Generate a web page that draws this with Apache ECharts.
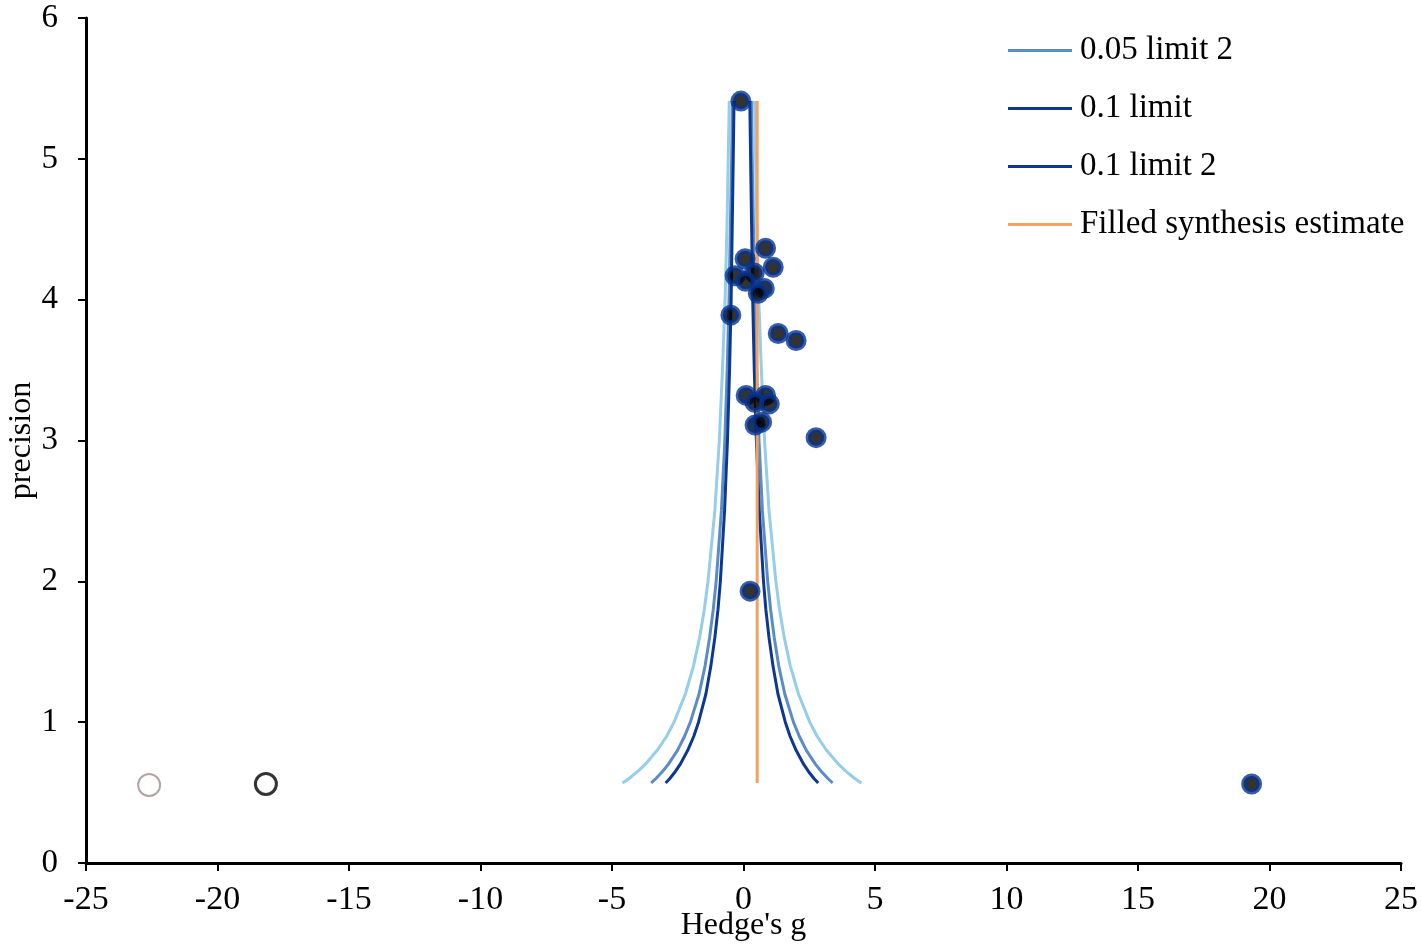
<!DOCTYPE html>
<html>
<head>
<meta charset="utf-8">
<script src="https://cdn.jsdelivr.net/npm/echarts@6/dist/echarts.min.js"></script>
<style>html,body{margin:0;padding:0;background:#fff;}#c{width:1421px;height:946px;}</style>
</head>
<body>
<div id="c"></div>
<script>
// precision levels at which the funnel limits are read
const precisionLevels = [0.568, 0.6, 0.65, 0.7, 0.8, 0.9, 1.0, 1.2, 1.4, 1.6, 1.8, 2.0, 2.5, 3.0, 3.5, 4.0, 4.5, 5.0, 5.41];
// funnel limit x-values (Hedge's g)
const limit01Left  = [-4.60, -4.35, -4.02, -3.74, -3.28, -2.92, -2.64, -2.21, -1.90, -1.67, -1.49, -1.35, -1.09, -0.92, -0.80, -0.70, -0.63, -0.58, -0.54];
const limit01Right = [4.48, 4.23, 3.90, 3.62, 3.16, 2.80, 2.52, 2.09, 1.78, 1.55, 1.37, 1.23, 0.97, 0.80, 0.68, 0.58, 0.51, 0.46, 0.42];
const limit05Left  = [-3.51, -3.33, -3.08, -2.86, -2.51, -2.24, -2.02, -1.69, -1.46, -1.29, -1.15, -1.04, -0.84, -0.71, -0.62, -0.55, -0.50, -0.45, -0.42];
const limit05Right = [3.39, 3.21, 2.96, 2.74, 2.39, 2.12, 1.90, 1.57, 1.34, 1.17, 1.03, 0.92, 0.72, 0.59, 0.50, 0.43, 0.38, 0.33, 0.30];
const limit1Left   = [-2.96, -2.80, -2.59, -2.41, -2.12, -1.89, -1.71, -1.43, -1.24, -1.09, -0.97, -0.88, -0.72, -0.61, -0.53, -0.47, -0.43, -0.39, -0.36];
const limit1Right  = [2.84, 2.68, 2.47, 2.29, 2.00, 1.77, 1.59, 1.31, 1.12, 0.97, 0.85, 0.76, 0.60, 0.49, 0.41, 0.35, 0.31, 0.27, 0.24];
// filled synthesis estimate
const filledEstimate = 0.52;
const estimatePrecision = [0.568, 5.41];
// studies: Hedge's g and precision
const studyG = [-0.10, 0.84, 0.06, 1.13, -0.32, 0.41, 0.08, 0.79, 0.56, -0.48, 1.32, 2.00, 0.10, 0.84, 0.44, 0.98, 0.44, 0.69, 2.76, 0.25, 19.32];
const studyP = [5.41, 4.365, 4.29, 4.23, 4.17, 4.19, 4.13, 4.08, 4.045, 3.89, 3.76, 3.71, 3.32, 3.32, 3.27, 3.26, 3.11, 3.13, 3.02, 1.93, 0.561];
// outlying open markers
const openBlackG = [-18.16], openBlackP = [0.561];
const openLightG = [-22.6], openLightP = [0.554];
const xTicks = [-25, -20, -15, -10, -5, 0, 5, 10, 15, 20, 25];
const yTicks = [0, 1, 2, 3, 4, 5, 6];

const zip = (xs, ys) => xs.map((x, i) => [x, ys[i]]);
const FONT = 'Liberation Serif, Times New Roman, serif';
const LIGHT = '#95cdea', MID = '#5b8cc6', DARK = '#0c3891', ORANGE = '#f5a05c';

function lineSeries(name, xs, color) {
  return {
    name: name, type: 'line', data: zip(xs, precisionLevels),
    showSymbol: false, symbol: 'none', smooth: false,
    lineStyle: { color: color, width: 3 }, itemStyle: { color: color },
    silent: true, z: 2
  };
}

const chart = echarts.init(document.getElementById('c'), null, { renderer: 'canvas' });
chart.setOption({
  animation: false,
  backgroundColor: '#fff',
  grid: { left: 86, right: 20, top: 18, bottom: 83, containLabel: false, outerBoundsMode: 'none' },
  legend: {
    data: ['0.05 limit 2', '0.1 limit', '0.1 limit 2', 'Filled synthesis estimate'],
    orient: 'vertical', left: 1003, top: 29,
    icon: 'rect', itemWidth: 64, itemHeight: 3, itemGap: 25,
    textStyle: { fontFamily: FONT, fontSize: 33, color: '#000', padding: [0, 0, 0, 3] },
    selectedMode: false
  },
  xAxis: {
    type: 'value', min: xTicks[0], max: xTicks[xTicks.length - 1], interval: 5,
    name: "Hedge's g", nameLocation: 'middle', nameGap: 47, nameMoveOverlap: false,
    nameTextStyle: { fontFamily: FONT, fontSize: 32, color: '#000' },
    axisLine: { onZero: false, lineStyle: { color: '#000', width: 3 } },
    axisTick: { show: true, inside: false, length: 8, lineStyle: { color: '#000', width: 2 } },
    axisLabel: { fontFamily: FONT, fontSize: 34, color: '#000', margin: 20 },
    splitLine: { show: false }
  },
  yAxis: {
    type: 'value', min: yTicks[0], max: yTicks[yTicks.length - 1], interval: 1,
    name: 'precision', nameLocation: 'middle', nameGap: 48, nameRotate: 90, nameMoveOverlap: false,
    nameTextStyle: { fontFamily: FONT, fontSize: 32, color: '#000' },
    axisLine: { show: true, onZero: false, lineStyle: { color: '#000', width: 3 } },
    axisTick: { show: true, inside: false, length: 8, lineStyle: { color: '#000', width: 2 } },
    axisLabel: { fontFamily: FONT, fontSize: 33, color: '#000', margin: 28 },
    splitLine: { show: false }
  },
  series: [
    lineSeries('0.01 limit', limit01Left, LIGHT),
    lineSeries('0.01 limit 2', limit01Right, LIGHT),
    lineSeries('0.05 limit', limit05Left, MID),
    lineSeries('0.05 limit 2', limit05Right, MID),
    lineSeries('0.1 limit', limit1Left, DARK),
    lineSeries('0.1 limit 2', limit1Right, DARK),
    {
      name: 'Filled synthesis estimate', type: 'line',
      data: estimatePrecision.map(p => [filledEstimate, p]),
      showSymbol: false, symbol: 'none',
      lineStyle: { color: ORANGE, width: 3 }, itemStyle: { color: ORANGE }, z: 3, silent: true
    },
    {
      name: 'Studies', type: 'scatter', data: zip(studyG, studyP),
      symbol: 'circle', symbolSize: 16,
      itemStyle: { color: '#000', borderColor: '#063592', borderWidth: 5 }, z: 5
    },
    {
      name: 'Filled', type: 'scatter', data: zip(openBlackG, openBlackP),
      symbol: 'circle', symbolSize: 21,
      itemStyle: { color: '#fff', borderColor: '#000', borderWidth: 3 }, z: 5
    },
    {
      name: 'Filled 2', type: 'scatter', data: zip(openLightG, openLightP),
      symbol: 'circle', symbolSize: 22,
      itemStyle: { color: '#fff', borderColor: '#a08c8a', borderWidth: 2 }, z: 5
    }
  ]
});
</script>
</body>
</html>
